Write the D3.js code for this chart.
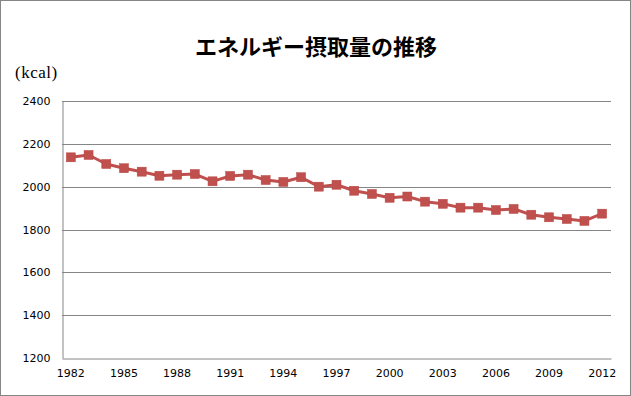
<!DOCTYPE html>
<html>
<head>
<meta charset="utf-8">
<script src="https://cdn.jsdelivr.net/npm/d3@7"></script>
<style>
  body { margin: 0; background: #fff; }
  svg { display: block; }
</style>
</head>
<body>
<script>
// data
const years = d3.range(1982, 2013);
const kcal = [2137, 2148, 2106, 2086, 2070, 2051, 2056, 2059, 2025, 2050,
              2056, 2031, 2022, 2044, 2000, 2009, 1981, 1966, 1948, 1954,
              1930, 1920, 1902, 1902, 1891, 1896, 1869, 1857, 1849, 1840, 1874];
const yTicks = [1200, 1400, 1600, 1800, 2000, 2200, 2400];
const xTickYears = [1982, 1985, 1988, 1991, 1994, 1997, 2000, 2003, 2006, 2009, 2012];

const W = 631, H = 396;
const margin = {top: 101, right: 20, bottom: 38, left: 62};

const svg = d3.select("body").append("svg")
    .attr("width", W).attr("height", H);

// outer frame
svg.append("rect")
    .attr("x", 0.5).attr("y", 0.5)
    .attr("width", W - 1).attr("height", H - 1)
    .attr("fill", "#fff").attr("stroke", "#868686");

svg.append("text")
    .attr("x", 316).attr("y", 55)
    .attr("text-anchor", "middle")
    .style("font", "bold 22px 'Noto Sans CJK JP', sans-serif")
    .text("エネルギー摂取量の推移");

svg.append("text")
    .attr("x", 15).attr("y", 78)
    .style("font", "17px 'Liberation Serif', serif")
    .style("letter-spacing", "0.5px")
    .text("(kcal)");

const x = d3.scaleBand()
    .domain(years)
    .range([margin.left, W - margin.right]);

const y = d3.scaleLinear()
    .domain([1200, 2400])
    .range([H - margin.bottom, margin.top]);

// gridlines
svg.append("g")
    .selectAll("line")
    .data(yTicks.slice(1))
    .join("line")
    .attr("x1", margin.left).attr("x2", W - margin.right)
    .attr("y1", d => Math.round(y(d)) + 0.5).attr("y2", d => Math.round(y(d)) + 0.5)
    .attr("stroke", "#868686");

// y axis
const yAxis = svg.append("g")
    .attr("transform", `translate(${margin.left + 0.5},0)`)
    .call(d3.axisLeft(y).tickValues(yTicks).tickFormat(d3.format("d")).tickSize(0).tickPadding(12));
yAxis.select(".domain").attr("stroke", "#868686");
yAxis.selectAll("text")
    .style("font", "11px 'DejaVu Sans', sans-serif")
    .attr("fill", "#000");

// x axis
const xAxis = svg.append("g")
    .attr("transform", `translate(0,${Math.round(H - margin.bottom) + 0.5})`)
    .call(d3.axisBottom(x).tickValues(xTickYears).tickSize(0).tickPadding(11));
xAxis.select(".domain").attr("stroke", "#868686");
xAxis.selectAll("text")
    .style("font", "11px 'DejaVu Sans', sans-serif")
    .attr("fill", "#000");

const cx = d => x(d) + x.bandwidth() / 2;

const line = d3.line()
    .x((d, i) => cx(years[i]))
    .y(d => y(d));

svg.append("path")
    .datum(kcal)
    .attr("d", line)
    .attr("fill", "none")
    .attr("stroke", "#C0504D")
    .attr("stroke-width", 3)
    .attr("stroke-linejoin", "round");

svg.append("g")
    .selectAll("rect")
    .data(kcal)
    .join("rect")
    .attr("x", (d, i) => cx(years[i]) - 4.5)
    .attr("y", d => y(d) - 4.5)
    .attr("width", 9).attr("height", 9)
    .attr("fill", "#C0504D")
    .attr("stroke", "#B84744")
    .attr("stroke-width", 0.5);
</script>
</body>
</html>
